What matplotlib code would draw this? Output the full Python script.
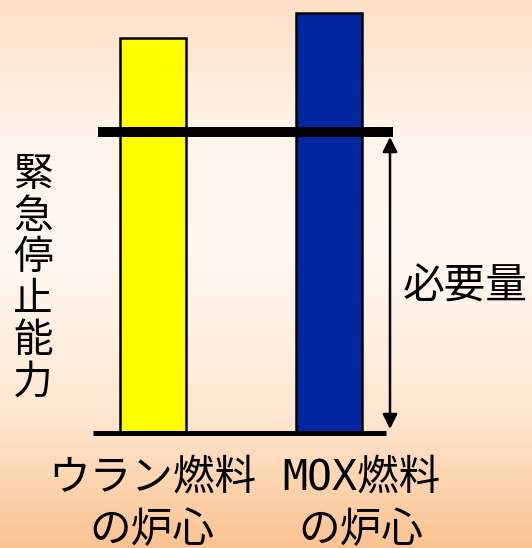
import numpy as np
import matplotlib.pyplot as plt

plt.rcParams['font.family'] = ['Noto Sans CJK JP', 'DejaVu Sans']

# data (relative shutdown capability, uranium core = 1.0)
categories = ['ウラン燃料\nの炉心', 'MOX燃料\nの炉心']
capability = [1.0, 1.063]
required = 0.762
bar_colors = ['#FFFF00', '#0026A0']
ylabel_chars = list('緊急停止能力')
required_label = '必要量'

W, H = 532, 548
fig = plt.figure(figsize=(W / 100, H / 100), dpi=100)
ax = fig.add_axes([0, 0, 1, 1])

# map pixel positions of the original slide onto data units
px_per_x = 175.5
px_per_y = 395.0
x0_px, base_px = 153.0, 433.0


def dx(px):
    return (px - x0_px) / px_per_x


def dy(py):
    return (base_px - py) / px_per_y


ax.set_xlim(dx(0), dx(W))
ax.set_ylim(dy(H), dy(0))
ax.axis('off')

# background gradient
stops_pos = [0.0, 0.25, 0.45, 0.75, 1.0]
stops_rgb = np.array([[255, 223, 198], [255, 245, 235], [255, 249, 243],
                      [255, 232, 210], [251, 195, 145]]) / 255
t = np.linspace(0, 1, 200)
grad = np.stack([np.interp(t, stops_pos, stops_rgb[:, i]) for i in range(3)], axis=-1)
ax.imshow(grad[:, None, :], extent=[dx(0), dx(W), dy(H), dy(0)],
          aspect='auto', zorder=0)

x = np.arange(len(categories))
ax.bar(x, capability, width=66 / px_per_x, color=bar_colors,
       edgecolor='black', linewidth=1.8, zorder=2)

# baseline and required level
ax.plot([dx(93), dx(386)], [dy(433), dy(433)], color='black', lw=3.6,
        solid_capstyle='butt', zorder=3)
ax.plot([dx(98), dx(393)], [required, required], color='black', lw=7.2,
        solid_capstyle='butt', zorder=3)

# arrow
ax.annotate('', xy=(dx(390), dy(137)), xytext=(dx(390), dy(429)),
            arrowprops=dict(arrowstyle='<|-|>', color='black', lw=1.8,
                            mutation_scale=22, shrinkA=0, shrinkB=0),
            zorder=4)

ax.text(dx(465), dy(287), required_label, fontsize=30, ha='center',
        va='center', zorder=5)

for i, ch in enumerate(ylabel_chars):
    ax.text(dx(33), dy(175 + i * 41.5), ch, fontsize=28.5, ha='center',
            va='center', zorder=5)

label_x = [152, 361]
for lx, lab in zip(label_x, categories):
    ax.text(dx(lx), dy(457), lab, fontsize=30, ha='center', va='top',
            linespacing=1.3, family=['DejaVu Sans Mono', 'Noto Sans CJK JP'],
            zorder=5)

fig.savefig('out.png', dpi=100)
